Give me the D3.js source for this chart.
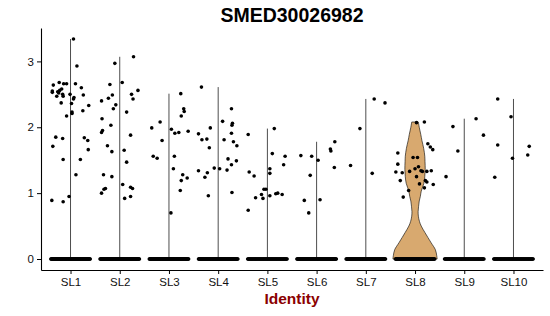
<!DOCTYPE html>
<html>
<head>
<meta charset="utf-8">
<script src="https://cdn.jsdelivr.net/npm/d3@7"></script>
<style>
  body { margin: 0; background: #fff; }
  svg { display: block; font-family: "Liberation Sans", Arial, sans-serif; }
</style>
</head>
<body>
<svg id="chart" width="550" height="316"></svg>
<script>

var TITLE = "SMED30026982"
var X_LABEL = "Identity"

var categories = ["SL1", "SL2", "SL3", "SL4", "SL5", "SL6", "SL7", "SL8", "SL9", "SL10"]
var yTicks = [0, 1, 2, 3]

// non-zero cells per identity, as [jitter, expression]
var sl1 = [[0.06,3.34],[0.13,2.93],[-0.35,2.64],[-0.23,2.68],[-0.14,2.66],[-0.08,2.66],[0.10,2.66],
  [0.22,2.60],[-0.37,2.55],[-0.37,2.53],[-0.26,2.54],[-0.22,2.56],[-0.18,2.58],[-0.24,2.52],
  [-0.28,2.47],[-0.16,2.50],[-0.15,2.47],[-0.01,2.50],[0.07,2.45],[0.06,2.43],[0.26,2.49],
  [-0.19,2.37],[0.02,2.36],[0.37,2.33],[0.25,2.25],[0.03,2.23],[0.03,2.21],[-0.08,2.17],
  [-0.30,1.85],[-0.16,1.83],[0.28,1.84],[0.35,1.80],[-0.36,1.71],[0.36,1.66],[-0.15,1.51],
  [0.20,1.51],[0.11,1.28],[-0.03,0.95],[-0.38,0.89],[-0.15,0.87]]
var sl2 = [[0.28,3.07],[-0.10,2.97],[0.05,2.68],[-0.20,2.65],[0.37,2.56],[0.24,2.50],[-0.15,2.49],
  [-0.23,2.44],[0.27,2.43],[-0.37,2.40],[-0.08,2.34],[-0.13,2.28],[0.14,2.23],[-0.36,2.13],
  [-0.18,2.03],[-0.35,1.95],[-0.37,1.92],[0.22,1.88],[-0.25,1.72],[-0.16,1.63],[0.09,1.65],
  [0.14,1.47],[-0.33,1.28],[-0.16,1.25],[0.06,1.13],[0.22,1.09],[0.26,1.07],[-0.29,1.07],
  [-0.32,1.06],[-0.37,1.00],[0.22,0.95],[0.10,0.92]]
var sl3 = [[0.24,2.51],[0.30,2.28],[0.31,2.24],[0.25,2.17],[-0.18,2.08],[-0.35,1.99],[0.05,1.97],
  [0.12,1.91],[0.20,1.92],[0.39,1.94],[-0.14,1.80],[-0.32,1.56],[-0.24,1.53],[0.11,1.56],
  [0.09,1.37],[0.28,1.28],[0.37,1.23],[0.25,1.19],[0.23,1.04],[0.04,0.70]]
var sl4 = [[-0.34,2.61],[0.27,2.28],[0.09,2.09],[0.29,2.06],[0.28,2.03],[-0.16,1.99],[-0.40,1.90],
  [-0.33,1.81],[-0.23,1.82],[0.27,1.91],[0.12,1.81],[0.31,1.78],[0.38,1.72],[-0.18,1.69],
  [0.20,1.52],[0.37,1.49],[0.27,1.43],[-0.08,1.38],[0.03,1.37],[0.18,1.35],[-0.40,1.34],
  [-0.22,1.31],[-0.27,1.24],[0.28,1.01],[-0.20,0.96]]
var sl5 = [[0.14,1.98],[-0.39,1.89],[0.10,1.60],[0.36,1.56],[0.33,1.43],[-0.37,1.32],[0.05,1.37],
  [0.05,1.30],[-0.27,1.26],[-0.07,1.06],[-0.03,1.06],[-0.12,0.98],[0.05,0.96],[-0.24,0.93],
  [-0.09,0.92],[0.17,0.99],[0.21,1.00],[0.30,0.98],[-0.39,0.74]]
var sl6 = [[0.37,1.78],[0.28,1.67],[0.29,1.64],[-0.32,1.57],[-0.10,1.56],[0.03,1.50],[0.36,1.39],
  [-0.13,1.27],[-0.25,0.89],[0.07,0.90],[-0.16,0.70]]
var sl7 = [[0.17,2.43],[0.39,2.37],[-0.12,1.98],[-0.31,1.42],[0.13,1.30]]
var sl8 = [[0.03,2.07],[0.19,2.08],[0.26,1.75],[0.31,1.70],[0.36,1.66],[-0.35,1.61],[-0.04,1.54],
  [0.05,1.54],[-0.35,1.44],[0.07,1.40],[0.00,1.37],[0.12,1.34],[0.15,1.33],[-0.39,1.32],
  [-0.26,1.31],[-0.11,1.33],[0.24,1.33],[0.33,1.34],[0.03,1.25],[-0.30,1.19],[0.21,1.19],
  [0.24,1.17],[0.09,1.14],[0.37,1.13],[0.19,1.08],[-0.13,1.04],[-0.24,0.94]]
var sl9 = [[-0.23,2.01],[0.24,2.13],[0.39,1.88],[-0.13,1.64],[-0.37,1.25]]
var sl10 = [[-0.32,2.43],[-0.05,2.16],[-0.32,1.73],[0.32,1.71],[0.29,1.58],[-0.02,1.53],[-0.38,1.24]]

var nonZero = [sl1, sl2, sl3, sl4, sl5, sl6, sl7, sl8, sl9, sl10]

// cells with zero expression per identity
var zeroCounts = [90, 90, 90, 85, 70, 85, 85, 80, 70, 70]

// SL8 is the only identity with a visible violin body: expression -> relative half width
var sl8DensityAt = [0, 0.05, 0.14, 0.25, 0.40, 0.50, 0.57, 0.65, 0.72, 0.80, 0.88, 0.95, 1.03,
  1.15, 1.25, 1.36, 1.48, 1.56, 1.68, 1.80, 1.89, 2.00, 2.08]
var sl8DensityWidth = [1.00, 0.98, 0.92, 0.72, 0.45, 0.28, 0.20, 0.15, 0.14, 0.16, 0.19, 0.24, 0.28,
  0.40, 0.44, 0.46, 0.45, 0.44, 0.39, 0.31, 0.26, 0.19, 0.15]
var SL8_FILL = "#D8A96F"

var MARGIN = { left: 41, right: 7, top: 28, bottom: 46 }
var WIDTH = 550, HEIGHT = 316
var POINT_R = 1.8
var VIOLIN_HALF = 0.45

var svg = d3.select("#chart")

var yMax = d3.max(nonZero, function(c) { return d3.max(c, function(p) { return p[1] }) })
var yPad = yMax * 0.05

var x = d3.scaleLinear()
  .domain([0.4, categories.length + 0.6])
  .range([MARGIN.left, WIDTH - MARGIN.right])

var y = d3.scaleLinear()
  .domain([-yPad, yMax + yPad])
  .range([HEIGHT - MARGIN.bottom, MARGIN.top])

function catX(i, jitter) {
  return x(i + 1 + jitter)
}

function drawViolins() {
  // zero-width violins collapse to a line from 0 up to the max value
  nonZero.forEach(function(cells, i) {
    if (categories[i] == "SL8") return
    var top = d3.max(cells, function(p) { return p[1] })
    svg.append("line")
      .attr("class", "violin")
      .attr("x1", catX(i, 0)).attr("x2", catX(i, 0))
      .attr("y1", y(0)).attr("y2", y(top))
      .attr("stroke", "#000")
      .attr("stroke-width", 0.7)
  })

  var i8 = categories.indexOf("SL8")
  var prof = sl8DensityAt.map(function(v, k) { return { v: v, w: sl8DensityWidth[k] } })
  var area = d3.area()
    .y(function(d) { return y(d.v) })
    .x0(function(d) { return catX(i8, -d.w * VIOLIN_HALF) })
    .x1(function(d) { return catX(i8, d.w * VIOLIN_HALF) })
    .curve(d3.curveCatmullRom)

  svg.append("path")
    .datum(prof)
    .attr("class", "violin")
    .attr("d", area)
    .attr("fill", SL8_FILL)
    .attr("stroke", "#000")
    .attr("stroke-width", 0.6)
}

function drawPoints() {
  var pts = []
  nonZero.forEach(function(cells, i) {
    cells.forEach(function(p) { pts.push({ i: i, j: p[0], v: p[1] }) })
    var n = zeroCounts[i]
    for (var k = 0; k < n; k++) {
      pts.push({ i: i, j: -0.4 + 0.8 * k / (n - 1), v: 0 })
    }
  })

  svg.selectAll(".pt")
    .data(pts)
    .enter().append("circle")
    .attr("class", "pt")
    .attr("cx", function(d) { return catX(d.i, d.j) })
    .attr("cy", function(d) { return y(d.v) })
    .attr("r", POINT_R)
    .attr("fill", "#000")
}

function drawAxes() {
  var xAxis = d3.axisBottom(x)
    .tickValues(d3.range(1, categories.length + 1))
    .tickFormat(function(d) { return categories[d - 1] })
    .tickSize(4)
    .tickPadding(4)
    .tickSizeOuter(0)

  var yAxis = d3.axisLeft(y)
    .tickValues(yTicks)
    .tickFormat(d3.format("d"))
    .tickSize(4)
    .tickPadding(3)
    .tickSizeOuter(0)

  var gx = svg.append("g")
    .attr("transform", "translate(0," + (HEIGHT - MARGIN.bottom) + ")")
    .call(xAxis)
  var gy = svg.append("g")
    .attr("transform", "translate(" + MARGIN.left + ",0)")
    .call(yAxis)

  ;[gx, gy].forEach(function(g) {
    g.select(".domain").attr("stroke", "#000").attr("stroke-width", 1.1)
    g.selectAll(".tick line").attr("stroke", "#000").attr("stroke-width", 1)
    g.selectAll(".tick text")
      .attr("fill", "#111")
      .style("font-size", "11.5px")
      .style("font-family", "'Liberation Sans', Arial, sans-serif")
  })

  svg.append("text")
    .attr("x", (MARGIN.left + WIDTH - MARGIN.right) / 2)
    .attr("y", 304)
    .attr("text-anchor", "middle")
    .attr("fill", "#8B0000")
    .style("font-size", "15.5px")
    .style("font-weight", "bold")
    .text(X_LABEL)

  svg.append("text")
    .attr("x", (MARGIN.left + WIDTH - MARGIN.right) / 2)
    .attr("y", 22)
    .attr("text-anchor", "middle")
    .attr("fill", "#000")
    .style("font-size", "19.5px")
    .style("font-weight", "bold")
    .text(TITLE)
}

drawViolins()
drawPoints()
drawAxes()
</script>
</body>
</html>
